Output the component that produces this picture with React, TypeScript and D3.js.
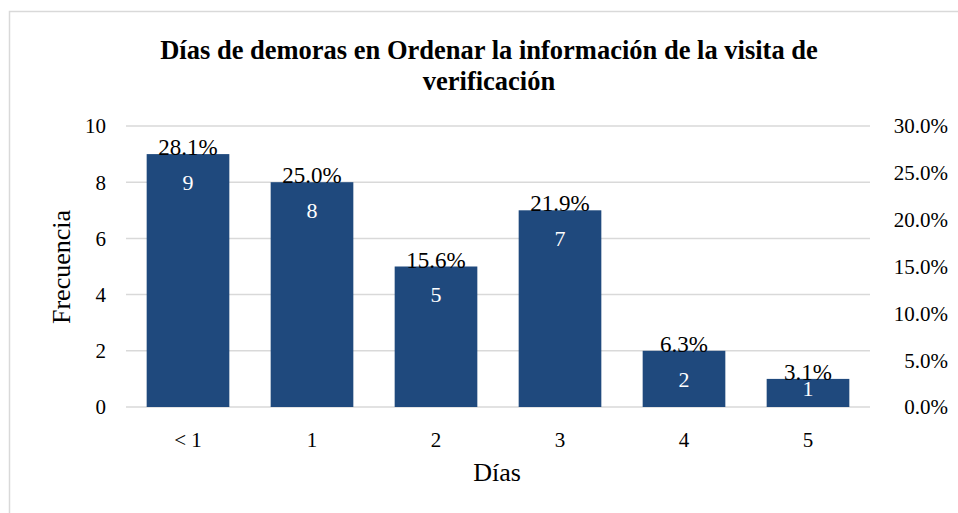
import React from "react";
import * as d3 from "d3";

const categories = ["< 1", "1", "2", "3", "4", "5"];
const counts = [9, 8, 5, 7, 2, 1];
const percentLabels = ["28.1%", "25.0%", "15.6%", "21.9%", "6.3%", "3.1%"];
const leftTicks = [0, 2, 4, 6, 8, 10];
const rightTicks = [0, 0.05, 0.1, 0.15, 0.2, 0.25, 0.3];

const W = 958;
const H = 513;
const FONT = "'Liberation Serif', 'Times New Roman', serif";

const App = () => {
  // plot area
  const left = 126;
  const right = 870;
  const top = 126;
  const bottom = 407;

  const x = d3.scaleBand<string>().domain(categories).range([left, right]).paddingInner(1 / 3).paddingOuter(1 / 6);
  const y = d3.scaleLinear().domain([0, 10]).range([bottom, top]);
  const y2 = d3.scaleLinear().domain([0, 0.3]).range([bottom, top]);
  const pct = d3.format(".1%");

  return (
    <svg width={W} height={H} style={{ position: "absolute", left: 0, top: 0 }} fontFamily={FONT}>
      <rect x={0} y={0} width={W} height={H} fill="#fff" />
      <rect x={9.5} y={11.5} width={W} height={H} fill="none" stroke="#d9d9d9" strokeWidth={1.5} />

      {/* title */}
      <text x={489} y={59} textAnchor="middle" fontSize={26.5} fontWeight="bold" fill="#000">
        Días de demoras en Ordenar la información de la visita de
      </text>
      <text x={489} y={90} textAnchor="middle" fontSize={26.5} fontWeight="bold" fill="#000">
        verificación
      </text>

      {/* gridlines */}
      {leftTicks.map((t) => (
        <line key={t} x1={left} x2={right} y1={y(t)} y2={y(t)} stroke="#d9d9d9" strokeWidth={1.5} />
      ))}

      {/* left axis */}
      {leftTicks.map((t) => (
        <text key={t} x={106} y={y(t)} dy="0.35em" textAnchor="end" fontSize={21} fill="#000">
          {t}
        </text>
      ))}
      {/* right axis */}
      {rightTicks.map((t) => (
        <text key={t} x={948} y={y2(t)} dy="0.35em" textAnchor="end" fontSize={21} fill="#000">
          {pct(t)}
        </text>
      ))}

      {/* bars */}
      {categories.map((c, i) => (
        <rect
          key={c}
          x={x(c)}
          y={y(counts[i])}
          width={x.bandwidth()}
          height={bottom - y(counts[i])}
          fill="#1f497d"
        />
      ))}

      {/* value labels */}
      {categories.map((c, i) => (
        <text
          key={c}
          x={(x(c) ?? 0) + x.bandwidth() / 2}
          y={Math.min(y(counts[i]) + 28, bottom - 19)}
          dy="0.35em"
          textAnchor="middle"
          fontSize={22}
          fill="#fff"
        >
          {counts[i]}
        </text>
      ))}
      {categories.map((c, i) => (
        <text
          key={c}
          x={(x(c) ?? 0) + x.bandwidth() / 2}
          y={y(counts[i]) + 1}
          textAnchor="middle"
          fontSize={23}
          fill="#000"
        >
          {percentLabels[i]}
        </text>
      ))}

      {/* x tick labels */}
      {categories.map((c) => (
        <text key={c} x={(x(c) ?? 0) + x.bandwidth() / 2} y={440} dy="0.35em" textAnchor="middle" fontSize={21} fill="#000">
          {c}
        </text>
      ))}

      {/* axis titles */}
      <text x={497} y={472} dy="0.35em" textAnchor="middle" fontSize={26} fill="#000">
        Días
      </text>
      <text
        transform={`translate(61, 267) rotate(-90)`}
        dy="0.35em"
        textAnchor="middle"
        fontSize={26}
        fill="#000"
      >
        Frecuencia
      </text>
    </svg>
  );
};

export default App;
